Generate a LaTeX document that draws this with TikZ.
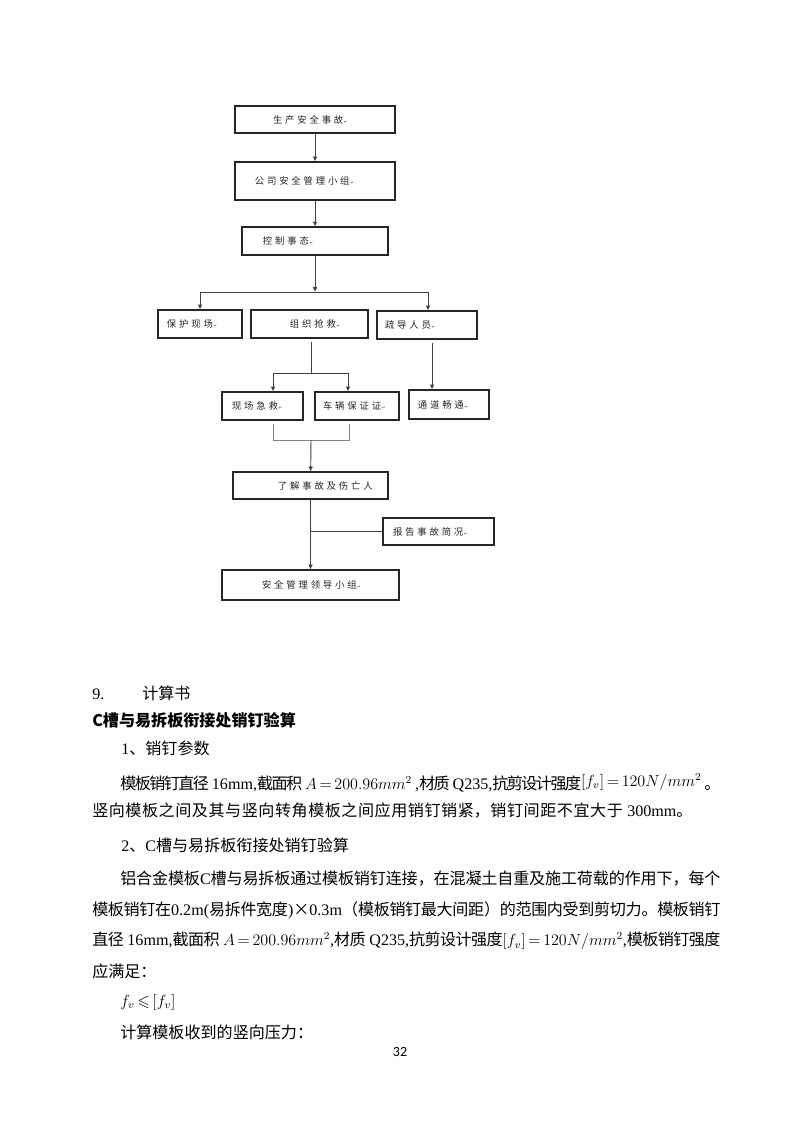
\documentclass[tikz,border=0pt]{standalone}
\usepackage{fontspec}
\usepackage{amsmath}
\usepackage{amssymb}
\usetikzlibrary{arrows.meta}
\setmainfont{Liberation Serif}
\newfontfamily\cjk{Noto Sans CJK SC}
\newfontfamily\symf{DejaVu Sans}
\newfontfamily\pagef{Carlito}
\XeTeXlinebreaklocale "zh"
\XeTeXlinebreakskip=0pt plus 2pt minus 1.5pt
\XeTeXlinebreakpenalty=10000
\relpenalty=10000
\binoppenalty=10000
\tolerance=10000
\thickmuskip=3mu plus 2mu
\newcommand{\pmark}{{\symf\fontsize{3}{3}\selectfont\,↵}}
\newcommand{\flowgap}{\XeTeXlinebreakskip=2.1pt\relax}
\tikzset{
	flowbox/.style={draw=black!85, line width=0.9pt, inner xsep=0pt, inner ysep=0pt,
		align=left, text=black!85, font=\cjk\fontsize{7}{8}\selectfont,
		execute at begin node=\flowgap},
	link/.style={black!75, line width=0.7pt},
	mergelink/.style={black!50, line width=0.7pt},
	bodyline/.style={anchor=west, inner sep=0pt, font=\fontsize{12}{14}\selectfont},
	bodyjust/.style={bodyline, align=justify},
}

\begin{document}
\begin{tikzpicture}[x=0.02625cm, y=-0.02625cm, >={Latex[length=3.6pt,width=3.6pt]}]
	\useasboundingbox[fill=white] (0,0) rectangle (800,1132);
	% flow chart
	\node[flowbox, text width=119.5pt, minimum height=20.2pt] (acc) at (315,119.5) {\hspace*{28.4pt}生产安全事故\pmark};
	\node[flowbox, text width=119.5pt, minimum height=28.4pt] (mgr) at (315,181) {\hspace*{14.9pt}公司安全管理小组\pmark};
	\node[flowbox, text width=109.1pt, minimum height=20.9pt] (ctl) at (315,241) {\hspace*{15.7pt}控制事态\pmark};
	\node[flowbox, text width=62.7pt, minimum height=20.9pt] (prot) at (200,324) {\hspace*{6.7pt}保护现场\pmark};
	\node[flowbox, text width=87.4pt, minimum height=20.9pt] (rescue) at (309.5,324) {\hspace*{29.1pt}组织抢救\pmark};
	\node[flowbox, text width=74.7pt, minimum height=20.9pt] (guide) at (427,325) {\hspace*{6pt}疏导人员\pmark};
	\node[flowbox, text width=60.5pt, minimum height=20.9pt] (aid) at (262.5,406) {\hspace*{7.5pt}现场急救\pmark};
	\node[flowbox, text width=62.7pt, minimum height=20.9pt] (car) at (357,406) {\hspace*{6pt}车辆保证证\pmark};
	\node[flowbox, text width=59.8pt, minimum height=21.7pt] (pass) at (449,404.5) {\hspace*{6.7pt}通道畅通\pmark};
	\node[flowbox, text width=115.8pt, minimum height=20.2pt] (learn) at (310.5,485.5) {\hspace*{33.6pt}了解事故及伤亡人};
	\node[flowbox, text width=82.9pt, minimum height=20.2pt] (report) at (438.5,531.5) {\hspace*{7.5pt}报告事故简况\pmark};
	\node[flowbox, text width=132.2pt, minimum height=22.4pt] (lead) at (310.5,585) {\hspace*{29.9pt}安全管理领导小组\pmark};

	\coordinate (s1) at (315,292);
	\coordinate (s1l) at (200,292);
	\coordinate (s1r) at (428,292);
	\coordinate (s2) at (311,373);
	\coordinate (s2l) at (273,373);
	\coordinate (s2r) at (348,373);
	\coordinate (g) at (432,0);
	\coordinate (m) at (311,440);
	\coordinate (ml) at (273,440);
	\coordinate (mr) at (349,440);

	\draw[link, ->] (acc) -- (mgr);
	\draw[link, ->] (mgr) -- (ctl);
	\draw[link, ->] (ctl) -- (s1);
	\draw[link] (s1l) -- (s1r);
	\draw[link, ->] (s1l) -- (prot);
	\draw[link, ->] (s1r) -- (s1r |- guide.north);
	\draw[link, shorten <=2.2pt] (rescue.south -| s2) -- (s2);
	\draw[link] (s2l) -- (s2r);
	\draw[link, ->] (s2l) -- (s2l |- aid.north);
	\draw[link, ->] (s2r) -- (s2r |- car.north);
	\draw[link, ->, shorten <=2.2pt] (guide.south -| g) -- (pass.north -| g);
	\draw[mergelink, shorten <=2.2pt, shorten >=2.2pt] (aid.south -| ml) -- (ml) -- (mr) -- (car.south -| mr);
	\draw[link, ->] (m) -- (learn);
	\draw[link, ->] (learn) -- (lead);
	\draw[link] (report.west) -- (report.west -| learn.south);

	% text below
	\node[bodyline] (l1) at (92,693) {9.\hspace*{28.4pt}{\cjk 计算书}};
	\node[bodyline] (l2) at (92,720) {\cjk\bfseries C槽与易拆板衔接处销钉验算};
	\node[bodyline] (l3) at (121,748) {1{\cjk 、销钉参数}};
	\node[bodyjust, text width=448.2pt] (l4) at (120,783) {\noindent\parfillskip=0pt {\cjk 模板销钉直径}~16mm,{\cjk 截面积}~$A=200.96mm^2$~,{\cjk 材质}~Q235,{\cjk 抗剪设计强度}\raisebox{2.5pt}{$[f_v]=120N/mm^2$}~{\cjk 。}\par};
	\node[bodyjust, text width=448.2pt] (l5) at (92,811) {\noindent\parfillskip=0pt {\cjk 竖向模板之间及其与竖向转角模板之间应用销钉销紧，销钉间距不宜大于}~300mm{\cjk 。}\par};
	\node[bodyline] (l6) at (121,845) {2{\cjk 、}C{\cjk 槽与易拆板衔接处销钉验算}};
	\node[bodyjust, text width=448.2pt] (l7) at (120,879) {\noindent\parfillskip=0pt {\cjk 铝合金模板}C{\cjk 槽与易拆板通过模板销钉连接，在混凝土自重及施工荷载的作用下，每个}\par};
	\node[bodyjust, text width=469.1pt] (l8) at (92,910) {\noindent\parfillskip=0pt {\cjk 模板销钉在}0.2m({\cjk 易拆件宽度}){\cjk ×}0.3m{\cjk （模板销钉最大间距）的范围内受到剪切力。模板销钉}\par};
	\node[bodyjust, text width=469.1pt] (l9) at (92,941) {\noindent\parfillskip=0pt {\cjk 直径}~16mm,{\cjk 截面积}~$A=200.96mm^2$,{\cjk 材质}~Q235,{\cjk 抗剪设计强度}$[f_v]=120N/mm^2$,{\cjk 模板销钉强度}\par};
	\node[bodyline] (l10) at (92,971) {\cjk 应满足：};
	\node[bodyline] (l11) at (120,1002) {$f_v \leqslant [f_v]$};
	\node[bodyline] (l12) at (120,1032) {\cjk 计算模板收到的竖向压力：};
	\node[inner sep=0pt, font=\pagef\fontsize{10.5}{12}\selectfont] (pg) at (400,1052) {32};
\end{tikzpicture}
\end{document}
